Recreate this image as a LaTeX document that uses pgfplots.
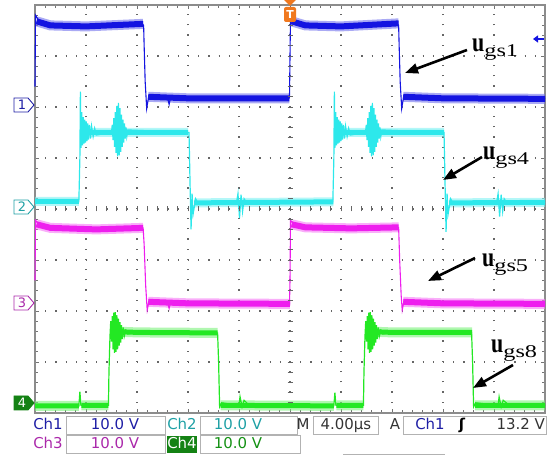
\documentclass[border=0pt]{standalone}
\usepackage{fontspec}
\setmainfont{DejaVu Sans}
\newfontfamily\tms{Liberation Serif}
\usepackage{pgfplots}
\pgfplotsset{compat=1.18}
\usetikzlibrary{arrows.meta}
\definecolor{cA}{RGB}{20,20,225}
\definecolor{cB}{RGB}{45,232,235}
\definecolor{cC}{RGB}{238,30,238}
\definecolor{cD}{RGB}{35,232,35}
\definecolor{tA}{RGB}{30,30,165}
\definecolor{tB}{RGB}{30,160,165}
\definecolor{tC}{RGB}{170,40,170}
\definecolor{tD}{RGB}{20,145,20}
\definecolor{gD}{RGB}{20,130,20}
\definecolor{orT}{RGB}{240,120,30}
\newcommand\ulab[1]{\scalebox{1}[1.25]{\tms\bfseries\fontsize{22}{22}\selectfont u}\raisebox{-5bp}{\scalebox{1.35}[1]{\tms\fontsize{18}{18}\selectfont gs#1}}}
\begin{document}
\begin{tikzpicture}[x=1bp,y=1bp]
\useasboundingbox (-35,-42) rectangle (518,413);
\begin{axis}[at={(0,0)},anchor=south west,
  scale only axis, width=510bp, height=408bp,
  xmin=0,xmax=10,ymin=0,ymax=8,
  xtick={0,1,...,10}, ytick={0,1,...,8},
  minor x tick num=4, minor y tick num=4,
  xticklabels={}, yticklabels={},
  tick align=inside, xtick pos=both, ytick pos=both,
  major tick length=4bp, minor tick length=3bp,
  tick style={black!55, line width=0.8bp},
  axis line style={black!45, line width=1.6bp},
  grid=major, major grid style={black!60, line width=1.3bp, dash pattern=on 1.2bp off 9bp},
  clip=false, unbounded coords=jump]
% ---------- Ch4 (green)
\addplot[cD!60, line width=10bp, opacity=.6, forget plot] coordinates {(0,0.14)(0.86,0.14)(0.87,nan)(0.91,0.15)(1.44,0.15)(1.45,nan)(1.5,1.6)(2.0,1.58)(3.58,1.57)(3.59,nan)(3.64,0.15)(5.86,0.14)(5.87,nan)(5.91,0.15)(6.44,0.15)(6.45,nan)(6.5,1.6)(7.0,1.58)(8.57,1.58)(8.58,nan)(8.63,0.15)(10,0.15)};
\addplot[cD, line width=5bp, forget plot] coordinates {(0,0.14)(0.86,0.14)(0.87,nan)(0.91,0.15)(1.44,0.15)(1.45,nan)(1.5,1.6)(2.0,1.58)(3.58,1.57)(3.59,nan)(3.64,0.15)(5.86,0.14)(5.87,nan)(5.91,0.15)(6.44,0.15)(6.45,nan)(6.5,1.6)(7.0,1.58)(8.57,1.58)(8.58,nan)(8.63,0.15)(10,0.15)};
\addplot[cD, line width=1.2bp] coordinates {(0,0.13)(0.86,0.13)(0.88,0.42)(0.9,0.15)(1.44,0.15)(1.45,0.8)(1.47,1.5)(1.485,1.8)(1.5,1.4)(1.515,1.9)(1.53,1.25)(1.545,1.97)(1.56,1.18)(1.575,1.98)(1.59,1.2)(1.605,1.92)(1.62,1.25)(1.635,1.85)(1.65,1.32)(1.665,1.78)(1.68,1.38)(1.695,1.72)(1.71,1.45)(1.73,1.68)(1.75,1.5)(1.78,1.62)(1.82,1.55)(2.0,1.58)(3.58,1.57)(3.6,1.0)(3.62,0.12)(3.66,0.2)(4.0,0.15)(4.02,0.32)(4.06,0.12)(4.1,0.25)(4.2,0.15)(5.86,0.14)(5.88,0.4)(5.9,0.15)(6.44,0.15)(6.45,0.8)(6.47,1.5)(6.485,1.8)(6.5,1.4)(6.515,1.9)(6.53,1.25)(6.545,1.97)(6.56,1.18)(6.575,1.98)(6.59,1.2)(6.605,1.92)(6.62,1.25)(6.635,1.85)(6.65,1.32)(6.665,1.78)(6.68,1.38)(6.695,1.72)(6.71,1.45)(6.73,1.68)(6.75,1.5)(6.78,1.62)(6.82,1.55)(7.0,1.58)(8.56,1.58)(8.58,1.0)(8.6,0.12)(8.64,0.2)(9.08,0.15)(9.1,0.32)(9.14,0.12)(9.18,0.25)(9.3,0.15)(10,0.15)};
% ---------- Ch3 (magenta)
\addplot[cC!60, line width=10bp, opacity=.6, forget plot] coordinates {(0.03,3.7)(0.3,3.63)(1.2,3.6)(2.12,3.63)(2.13,nan)(2.22,2.18)(3,2.15)(5.0,2.14)(5.01,nan)(5.03,3.7)(5.3,3.64)(6.2,3.62)(7.13,3.64)(7.14,nan)(7.22,2.18)(8,2.15)(10,2.14)};
\addplot[cC, line width=6bp, forget plot] coordinates {(0.03,3.7)(0.3,3.63)(1.2,3.6)(2.12,3.63)(2.13,nan)(2.22,2.18)(3,2.15)(5.0,2.14)(5.01,nan)(5.03,3.7)(5.3,3.64)(6.2,3.62)(7.13,3.64)(7.14,nan)(7.22,2.18)(8,2.15)(10,2.14)};
\addplot[cC, line width=1.1bp] coordinates {(0,2.6)(0.01,3.78)(0.06,3.72)(0.3,3.63)(2.12,3.63)(2.14,3.3)(2.17,2.5)(2.2,2.02)(2.24,2.22)(2.3,2.15)(2.6,2.16)(2.63,2.05)(2.66,2.18)(4.99,2.14)(5.0,2.6)(5.01,3.78)(5.06,3.72)(5.3,3.64)(7.13,3.64)(7.15,3.0)(7.18,2.3)(7.2,2.02)(7.24,2.22)(7.3,2.15)(10,2.14)};
% ---------- Ch2 (cyan)
\addplot[cB!60, line width=9bp, opacity=.6, forget plot] coordinates {(0,4.15)(0.86,4.15)(0.87,nan)(0.93,5.5)(1.3,5.5)(3.0,5.5)(3.01,nan)(3.12,4.12)(5.85,4.14)(5.86,nan)(5.93,5.5)(6.3,5.5)(8.02,5.5)(8.03,nan)(8.12,4.12)(10,4.13)};
\addplot[cB, line width=5bp, forget plot] coordinates {(0,4.15)(0.86,4.15)(0.87,nan)(0.93,5.5)(1.3,5.5)(3.0,5.5)(3.01,nan)(3.12,4.12)(5.85,4.14)(5.86,nan)(5.93,5.5)(6.3,5.5)(8.02,5.5)(8.03,nan)(8.12,4.12)(10,4.13)};
\addplot[cB, line width=1.2bp] coordinates {(0,4.14)(0.86,4.14)(0.88,5.0)(0.89,6.3)(0.9,5.2)(0.915,5.9)(0.93,5.25)(0.945,5.8)(0.96,5.28)(0.975,5.75)(0.99,5.3)(1.005,5.72)(1.02,5.33)(1.035,5.68)(1.05,5.36)(1.07,5.65)(1.09,5.38)(1.11,5.62)(1.14,5.42)(1.17,5.58)(1.2,5.45)(1.5,5.5)(1.515,5.65)(1.53,5.35)(1.545,5.78)(1.56,5.22)(1.575,5.9)(1.59,5.1)(1.605,6.02)(1.62,5.03)(1.635,6.08)(1.65,5.05)(1.665,5.98)(1.68,5.12)(1.695,5.85)(1.71,5.22)(1.725,5.75)(1.74,5.3)(1.755,5.68)(1.77,5.38)(1.785,5.6)(1.80,5.42)(1.82,5.55)(3.02,5.5)(3.04,4.5)(3.06,3.6)(3.08,4.3)(3.1,3.9)(3.15,4.2)(3.2,4.1)(3.95,4.12)(3.98,4.3)(4.01,3.82)(4.04,4.28)(4.07,3.95)(4.1,4.2)(4.15,4.12)(5.84,4.14)(5.86,5.0)(5.87,6.3)(5.88,5.2)(5.895,5.9)(5.91,5.25)(5.925,5.8)(5.94,5.28)(5.955,5.75)(5.97,5.3)(5.985,5.72)(6.0,5.33)(6.015,5.68)(6.03,5.36)(6.05,5.65)(6.07,5.38)(6.09,5.62)(6.12,5.42)(6.15,5.58)(6.18,5.45)(6.48,5.5)(6.495,5.65)(6.51,5.35)(6.525,5.78)(6.54,5.22)(6.555,5.9)(6.57,5.1)(6.585,6.02)(6.6,5.03)(6.615,6.08)(6.63,5.05)(6.645,5.98)(6.66,5.12)(6.675,5.85)(6.69,5.22)(6.705,5.75)(6.72,5.3)(6.735,5.68)(6.75,5.38)(6.765,5.6)(6.78,5.42)(6.8,5.55)(8.02,5.5)(8.04,4.5)(8.06,3.55)(8.08,4.3)(8.1,3.9)(8.15,4.2)(8.2,4.1)(9.05,4.12)(9.08,4.3)(9.11,3.85)(9.14,4.28)(9.17,3.95)(9.2,4.2)(9.25,4.12)(10,4.13)};
% ---------- Ch1 (blue)
\addplot[cA!60, line width=10bp, opacity=.6, forget plot] coordinates {(0.03,7.68)(0.3,7.6)(1.0,7.58)(2.12,7.63)(2.13,nan)(2.22,6.2)(3,6.17)(4.99,6.17)(5.0,nan)(5.03,7.68)(5.3,7.6)(6.0,7.58)(7.13,7.64)(7.14,nan)(7.22,6.2)(8,6.17)(10,6.16)};
\addplot[cA, line width=6bp, forget plot] coordinates {(0.03,7.68)(0.3,7.6)(1.0,7.58)(2.12,7.63)(2.13,nan)(2.22,6.2)(3,6.17)(4.99,6.17)(5.0,nan)(5.03,7.68)(5.3,7.6)(6.0,7.58)(7.13,7.64)(7.14,nan)(7.22,6.2)(8,6.17)(10,6.16)};
\addplot[cA, line width=1.1bp] coordinates {(0,6.4)(0.01,7.8)(0.06,7.72)(0.15,7.64)(0.4,7.6)(1.2,7.6)(2.1,7.64)(2.13,7.6)(2.14,7.2)(2.16,6.5)(2.19,5.97)(2.23,6.22)(2.3,6.15)(2.6,6.18)(2.63,6.05)(2.66,6.2)(4.98,6.17)(4.99,6.2)(5.0,7.0)(5.01,7.8)(5.06,7.72)(5.15,7.64)(5.4,7.6)(7.1,7.64)(7.13,7.6)(7.14,7.2)(7.16,6.5)(7.19,5.97)(7.23,6.22)(7.3,6.15)(10,6.17)};
\end{axis}
% center cross ticks
\foreach \i in {1,...,49} \draw[black!60, line width=0.8bp] (\i*10.2,201.5) -- (\i*10.2,206.5);
\foreach \i in {1,...,39} \draw[black!60, line width=0.8bp] (252.5,\i*10.2) -- (257.5,\i*10.2);
% channel markers
\draw[tA, line width=0.9bp, fill=white] (-21,315) -- (-7,315) -- (-1,308) -- (-7,301) -- (-21,301) -- cycle;
\node[tA, font=\fontsize{13}{13}\selectfont] at (-13,308) {1};
\draw[tB, line width=0.9bp, fill=white] (-21,213) -- (-7,213) -- (-1,206) -- (-7,199) -- (-21,199) -- cycle;
\node[tB, font=\fontsize{13}{13}\selectfont] at (-13,206) {2};
\draw[tC, line width=0.9bp, fill=white] (-21,117) -- (-7,117) -- (-1,110) -- (-7,103) -- (-21,103) -- cycle;
\node[tC, font=\fontsize{13}{13}\selectfont] at (-13,110) {3};
\draw[gD, line width=0.9bp, fill=gD] (-21,17) -- (-7,17) -- (-1,10) -- (-7,3) -- (-21,3) -- cycle;
\node[white, font=\fontsize{13}{13}\selectfont] at (-13,10) {4};
% trigger marker
\fill[orT] (249,413) -- (261,413) -- (255,407) -- cycle;
\fill[orT, rounded corners=2bp] (249,391) rectangle (261,406);
\node[white, font=\bfseries\fontsize{11}{11}\selectfont] at (255,398.5) {T};
\draw[cA, line width=1.5bp, -{Triangle[length=5bp,width=7bp]}] (509,374) -- (498,374);
% annotations
\node[anchor=base west, inner sep=0] at (437,361) {\ulab{1}};
\node[anchor=base west, inner sep=0] at (448,253) {\ulab{4}};
\node[anchor=base west, inner sep=0] at (447,146) {\ulab{5}};
\node[anchor=base west, inner sep=0] at (456,60) {\ulab{8}};
\draw[line width=2.6bp, -{Triangle[length=13bp,width=10bp]}] (432,363) -- (370,340);
\draw[line width=2.6bp, -{Triangle[length=13bp,width=10bp]}] (447,256) -- (408,233);
\draw[line width=2.6bp, -{Triangle[length=13bp,width=10bp]}] (440,155) -- (393,132);
\draw[line width=2.6bp, -{Triangle[length=13bp,width=10bp]}] (478,48) -- (438,25);
% info panel
\begin{scope}[every node/.style={anchor=base, inner sep=0, font=\fontsize{15}{15}\selectfont}]
\draw[black!30, line width=0.8bp] (31,-3) rectangle (130,-21);
\draw[black!30, line width=0.8bp] (165,-3) rectangle (262,-21);
\draw[black!30, line width=0.8bp] (278,-3) rectangle (343,-21);
\draw[black!30, line width=0.8bp] (368,-3) rectangle (511,-21);
\draw[black!30, line width=0.8bp] (31,-22) rectangle (130,-40);
\draw[black!30, line width=0.8bp] (165,-22) rectangle (265,-40);
\draw[black!30, line width=0.8bp] (308,-41) -- (410,-41);
\fill[gD] (132,-23) rectangle (162,-40);
\node[tA] at (13,-17) {Ch1};
\node[tA] at (80,-17) {10.0 V};
\node[tB] at (147,-17) {Ch2};
\node[tB] at (203,-17) {10.0 V};
\node[black!80] at (268,-17) {M};
\node[black!80] at (311,-17) {4.00µs};
\node[black!80] at (360,-17) {A};
\node[tA] at (395,-17) {Ch1};
\node[black] at (427,-17) {\bfseries ʃ};
\node[black!80, anchor=base east] at (510,-17) {13.2 V};
\node[tC] at (13,-36) {Ch3};
\node[tC] at (80,-36) {10.0 V};
\node[white] at (147,-36) {Ch4};
\node[tD] at (203,-36) {10.0 V};
\end{scope}
\end{tikzpicture}
\end{document}
